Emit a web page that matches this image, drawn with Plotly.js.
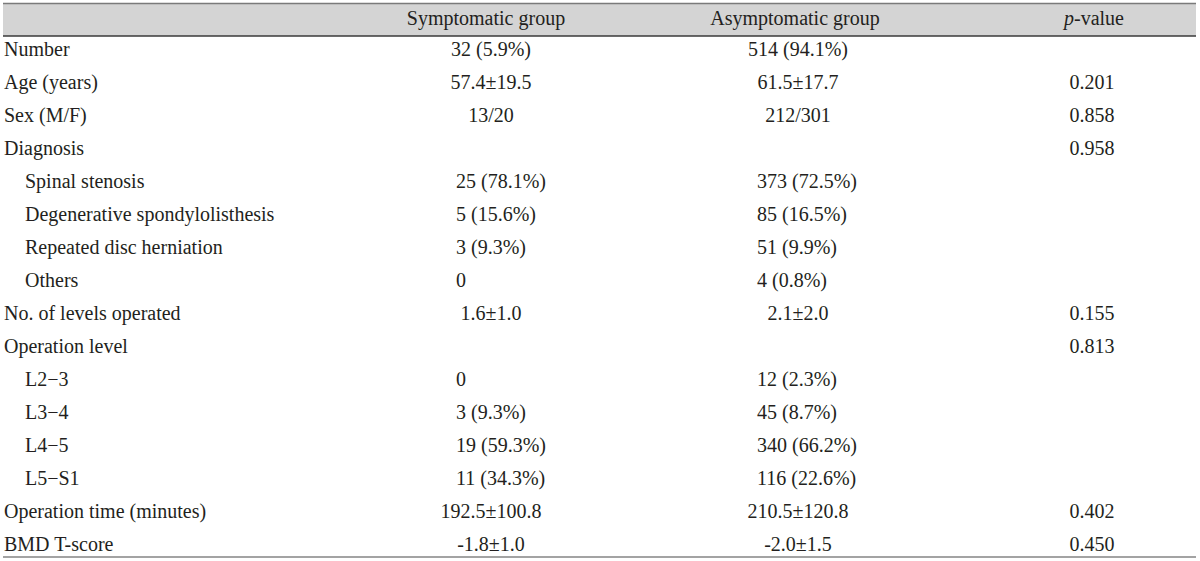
<!DOCTYPE html>
<html>
<head>
<meta charset="utf-8">
<script src="https://cdn.plot.ly/plotly-3.0.1.min.js"></script>
<style>html,body{margin:0;padding:0;background:#fff;}#chart{width:1200px;height:561px;}</style>
</head>
<body>
<div id="chart"></div>
<script>
// ---- table content ----
const headers = ["Symptomatic group", "Asymptomatic group", "<i>p</i>-value"];
const rowLabels = [
  "Number", "Age (years)", "Sex (M/F)", "Diagnosis",
  "Spinal stenosis", "Degenerative spondylolisthesis", "Repeated disc herniation", "Others",
  "No. of levels operated", "Operation level",
  "L2\u22123", "L3\u22124", "L4\u22125", "L5\u2212S1",
  "Operation time (minutes)", "BMD T-score"
];
const rowLevel = [0,0,0,0, 1,1,1,1, 0,0, 1,1,1,1, 0,0];
const symptomatic = [
  "32 (5.9%)", "57.4\u00b119.5", "13/20", "",
  "25 (78.1%)", "5 (15.6%)", "3 (9.3%)", "0",
  "1.6\u00b11.0", "",
  "0", "3 (9.3%)", "19 (59.3%)", "11 (34.3%)",
  "192.5\u00b1100.8", "-1.8\u00b11.0"
];
const asymptomatic = [
  "514 (94.1%)", "61.5\u00b117.7", "212/301", "",
  "373 (72.5%)", "85 (16.5%)", "51 (9.9%)", "4 (0.8%)",
  "2.1\u00b12.0", "",
  "12 (2.3%)", "45 (8.7%)", "340 (66.2%)", "116 (22.6%)",
  "210.5\u00b1120.8", "-2.0\u00b11.5"
];
const pValues = [
  "", "0.201", "0.858", "0.958",
  "", "", "", "",
  "0.155", "0.813",
  "", "", "", "",
  "0.402", "0.450"
];

// ---- layout helpers ----
const FONT = {family: "Liberation Serif, Times New Roman, serif", size: 20, color: "#231f20"};
const HEADER_ROW = -0.95;
const colX = {label0: 4, label1: 25, c1: 491, c1sub: 456, c2: 798, c2sub: 757, c3: 1092};

function pick(arr, cond) {
  const ys = [], ts = [];
  arr.forEach((t, i) => { if (cond(i) && t !== "") { ys.push(i); ts.push(t); } });
  return {ys, ts};
}
function textTrace(x, sel, pos) {
  return {
    type: "scatter", mode: "text",
    x: sel.ys.map(() => x), y: sel.ys, text: sel.ts,
    textposition: pos, textfont: FONT,
    hoverinfo: "skip", showlegend: false, cliponaxis: false
  };
}

const traces = [
  textTrace(colX.label0, pick(rowLabels, i => rowLevel[i] === 0), "middle right"),
  textTrace(colX.label1, pick(rowLabels, i => rowLevel[i] === 1), "middle right"),
  textTrace(colX.c1, pick(symptomatic, i => rowLevel[i] === 0), "middle center"),
  textTrace(colX.c1sub, pick(symptomatic, i => rowLevel[i] === 1), "middle right"),
  textTrace(colX.c2, pick(asymptomatic, i => rowLevel[i] === 0), "middle center"),
  textTrace(colX.c2sub, pick(asymptomatic, i => rowLevel[i] === 1), "middle right"),
  textTrace(colX.c3, pick(pValues, () => true), "middle center"),
  {
    type: "scatter", mode: "text",
    x: [486, 795, 1094], y: headers.map(() => HEADER_ROW), text: headers,
    textposition: "middle center", textfont: FONT,
    hoverinfo: "skip", showlegend: false, cliponaxis: false
  }
];

const H = 561;
const py = p => 1 - p / H;
const TOP = 51, STEP = 33;
const layout = {
  width: 1200, height: 561,
  margin: {l: 0, r: 0, t: 0, b: 0, pad: 0},
  paper_bgcolor: "#ffffff", plot_bgcolor: "#ffffff",
  xaxis: {range: [0, 1200], visible: false, fixedrange: true},
  yaxis: {range: [(H - TOP) / STEP, -TOP / STEP], visible: false, fixedrange: true},
  shapes: [
    {type: "rect", xref: "paper", yref: "paper", x0: 3/1200, x1: 1196/1200, y0: py(36), y1: py(3.5),
     fillcolor: "#d4d4d4", line: {width: 0}, layer: "below"},
    {type: "line", xref: "paper", yref: "paper", x0: 3/1200, x1: 1196/1200, y0: py(3.5), y1: py(3.5),
     line: {color: "#7a7a7a", width: 1.5}},
    {type: "line", xref: "paper", yref: "paper", x0: 3/1200, x1: 1196/1200, y0: py(36), y1: py(36),
     line: {color: "#3a3a3a", width: 1.5}},
    {type: "line", xref: "paper", yref: "paper", x0: 3/1200, x1: 1196/1200, y0: py(557), y1: py(557),
     line: {color: "#a3a3a3", width: 2}}
  ]
};

Plotly.newPlot("chart", traces, layout, {staticPlot: true, displayModeBar: false});
</script>
</body>
</html>
